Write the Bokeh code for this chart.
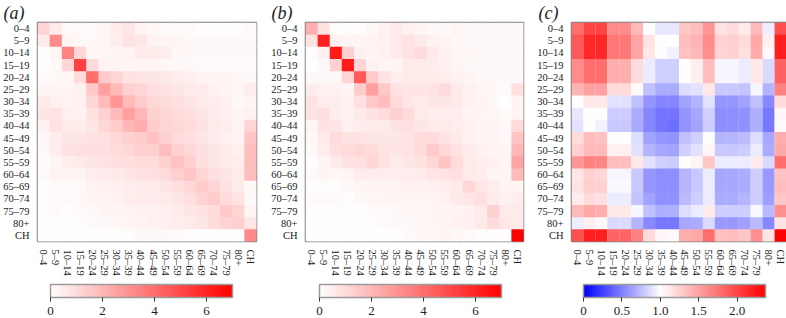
import math
from bokeh.plotting import figure
from bokeh.models import (LinearColorMapper, ColorBar, FixedTicker, ColumnDataSource,
                          FactorRange)
from bokeh.layouts import row
from bokeh.embed import file_html
from bokeh.resources import INLINE

ages = ["0–4", "5–9", "10–14", "15–19", "20–24", "25–29", "30–34", "35–39", "40–44",
        "45–49", "50–54", "55–59", "60–64", "65–69", "70–74", "75–79", "80+", "CH"]

panel_labels = ["(a)", "(b)", "(c)"]

contacts_a = [
    [1.2, 0.55, 0.15, 0.15, 0.15, 0.25, 0.55, 0.7, 0.35, 0.2, 0.15, 0.15, 0.15, 0.1, 0.1, 0.1, 0.1, 0.15],
    [0.55, 3.2, 0.3, 0.2, 0.2, 0.3, 0.5, 0.8, 0.7, 0.35, 0.3, 0.3, 0.2, 0.2, 0.2, 0.2, 0.2, 0.2],
    [0.1, 0.3, 3.4, 1.1, 0.25, 0.25, 0.3, 0.35, 0.55, 0.6, 0.5, 0.25, 0.2, 0.2, 0.2, 0.2, 0.2, 0.2],
    [0.05, 0.15, 1.1, 5.2, 1.0, 0.35, 0.3, 0.3, 0.35, 0.3, 0.25, 0.2, 0.2, 0.15, 0.15, 0.15, 0.15, 0.15],
    [0.15, 0.2, 0.25, 1.0, 4.0, 1.5, 1.2, 0.8, 0.7, 0.7, 0.65, 0.5, 0.45, 0.35, 0.3, 0.3, 0.2, 0.2],
    [0.3, 0.3, 0.3, 0.4, 1.5, 2.6, 1.9, 1.3, 1.1, 0.9, 0.8, 0.7, 0.6, 0.55, 0.4, 0.3, 0.25, 0.5],
    [0.6, 0.4, 0.35, 0.4, 1.1, 1.9, 2.9, 1.9, 1.4, 1.1, 0.95, 0.9, 0.75, 0.6, 0.5, 0.4, 0.2, 0.3],
    [0.7, 0.8, 0.45, 0.4, 0.8, 1.3, 1.9, 2.6, 2.0, 1.3, 1.1, 1.0, 0.9, 0.7, 0.55, 0.45, 0.3, 0.4],
    [0.4, 0.8, 0.6, 0.5, 0.7, 1.1, 1.4, 2.0, 2.2, 1.4, 1.2, 1.1, 1.0, 0.8, 0.6, 0.5, 0.35, 1.2],
    [0.2, 0.5, 0.7, 0.7, 0.8, 0.9, 1.1, 1.3, 1.4, 1.7, 1.3, 1.0, 0.9, 0.7, 0.55, 0.45, 0.35, 1.6],
    [0.2, 0.5, 0.8, 0.9, 0.9, 0.9, 1.0, 1.1, 1.3, 1.3, 1.8, 1.3, 1.1, 0.9, 0.7, 0.6, 0.45, 1.8],
    [0.15, 0.3, 0.5, 0.6, 0.7, 0.8, 0.9, 0.9, 1.0, 1.0, 1.3, 1.7, 1.3, 0.9, 0.7, 0.6, 0.5, 1.8],
    [0.15, 0.35, 0.3, 0.35, 0.5, 0.55, 0.6, 0.7, 0.8, 0.9, 1.0, 1.3, 1.6, 1.2, 0.9, 0.7, 0.6, 1.8],
    [0.1, 0.15, 0.15, 0.2, 0.35, 0.4, 0.45, 0.5, 0.55, 0.6, 0.7, 0.9, 1.1, 1.4, 1.2, 0.8, 0.6, 0.2],
    [0.1, 0.15, 0.15, 0.2, 0.3, 0.35, 0.4, 0.5, 0.6, 0.55, 0.6, 0.7, 0.9, 1.2, 1.4, 1.0, 0.8, 0.2],
    [0.1, 0.15, 0.1, 0.15, 0.2, 0.3, 0.3, 0.35, 0.4, 0.4, 0.45, 0.55, 0.7, 0.8, 1.0, 1.5, 1.2, 0.3],
    [0.1, 0.1, 0.1, 0.1, 0.15, 0.2, 0.25, 0.3, 0.35, 0.4, 0.45, 0.5, 0.6, 0.7, 1.0, 1.2, 1.3, 0.7],
    [0.05, 0.05, 0.05, 0.05, 0.05, 0.1, 0.1, 0.1, 0.2, 0.2, 0.2, 0.15, 0.1, 0.05, 0.1, 0.05, 0.05, 3.2],
]

contacts_b = [
    [2.2, 0.8, 0.1, 0.1, 0.1, 0.2, 0.4, 0.6, 0.4, 0.3, 0.2, 0.2, 0.3, 0.2, 0.2, 0.2, 0.2, 0.2],
    [0.8, 6.2, 0.4, 0.3, 0.3, 0.35, 0.4, 0.6, 0.8, 0.6, 0.4, 0.3, 0.2, 0.2, 0.2, 0.2, 0.2, 0.2],
    [0.1, 0.4, 6.3, 1.3, 0.4, 0.3, 0.4, 0.6, 0.8, 1.0, 0.6, 0.4, 0.3, 0.25, 0.2, 0.2, 0.2, 0.2],
    [0.05, 0.2, 1.3, 6.3, 1.2, 0.4, 0.3, 0.3, 0.6, 0.6, 0.5, 0.4, 0.3, 0.2, 0.2, 0.2, 0.2, 0.2],
    [0.2, 0.2, 0.2, 1.2, 4.5, 1.4, 0.8, 0.5, 0.6, 0.6, 0.6, 0.5, 0.4, 0.3, 0.2, 0.2, 0.2, 0.2],
    [0.5, 0.4, 0.4, 0.3, 1.4, 2.6, 1.5, 0.8, 0.7, 0.7, 0.8, 1.0, 0.6, 0.4, 0.3, 0.2, 0.15, 0.9],
    [0.8, 0.5, 0.5, 0.4, 0.9, 1.5, 1.8, 1.0, 0.7, 0.6, 0.7, 0.7, 0.6, 0.4, 0.35, 0.2, 0.0, 0.3],
    [0.8, 0.9, 0.5, 0.4, 0.6, 0.8, 1.0, 1.3, 1.0, 0.6, 0.5, 0.5, 0.5, 0.35, 0.3, 0.25, 0.15, 0.3],
    [0.3, 0.8, 0.7, 0.4, 0.5, 0.6, 0.6, 0.8, 0.9, 0.7, 0.6, 0.6, 0.5, 0.4, 0.3, 0.3, 0.2, 1.0],
    [0.2, 0.6, 1.0, 0.8, 0.8, 0.7, 0.7, 0.7, 0.8, 1.0, 1.0, 0.8, 0.6, 0.4, 0.35, 0.3, 0.2, 1.6],
    [0.2, 0.5, 0.9, 1.0, 1.1, 1.0, 0.8, 0.7, 0.8, 1.0, 1.5, 1.1, 0.8, 0.6, 0.4, 0.3, 0.3, 2.0],
    [0.1, 0.3, 0.6, 0.8, 0.9, 1.1, 0.8, 0.6, 0.7, 0.8, 1.1, 1.6, 1.0, 0.6, 0.5, 0.4, 0.3, 2.5],
    [0.2, 0.3, 0.2, 0.3, 0.5, 0.5, 0.5, 0.5, 0.5, 0.5, 0.7, 0.8, 0.9, 0.6, 0.5, 0.3, 0.3, 1.9],
    [0.1, 0.1, 0.1, 0.2, 0.3, 0.35, 0.3, 0.35, 0.4, 0.4, 0.4, 0.5, 0.6, 1.1, 0.7, 0.5, 0.3, 0.3],
    [0.15, 0.15, 0.15, 0.1, 0.2, 0.25, 0.3, 0.3, 0.3, 0.3, 0.3, 0.4, 0.6, 0.7, 0.9, 0.6, 0.4, 0.5],
    [0.1, 0.1, 0.1, 0.05, 0.1, 0.15, 0.15, 0.2, 0.25, 0.25, 0.3, 0.3, 0.35, 0.4, 0.6, 1.3, 0.6, 0.6],
    [0.1, 0.1, 0.05, 0.05, 0.1, 0.1, 0.15, 0.2, 0.2, 0.25, 0.3, 0.35, 0.4, 0.4, 0.6, 1.0, 0.7, 0.6],
    [0.05, 0.05, 0.05, 0.05, 0.05, 0.05, 0.05, 0.1, 0.15, 0.2, 0.25, 0.3, 0.2, 0.15, 0.1, 0.1, 0.05, 7.0],
]

ratio_c = [
    [1.78, 2.0, 2.0, 1.62, 1.62, 1.38, 1.0, 0.9, 0.9, 1.3, 1.35, 1.56, 1.16, 1.19, 1.1, 1.38, 0.94, 1.94],
    [1.9, 2.15, 2.15, 1.72, 1.72, 1.48, 1.16, 1.0, 1.0, 1.35, 1.4, 1.62, 1.24, 1.27, 1.19, 1.46, 1.08, 2.2],
    [1.9, 2.15, 2.15, 1.72, 1.72, 1.48, 1.12, 1.0, 0.95, 1.33, 1.38, 1.6, 1.22, 1.25, 1.17, 1.44, 1.03, 2.2],
    [1.62, 1.78, 1.78, 1.43, 1.43, 1.2, 0.92, 0.82, 0.82, 1.0, 1.08, 1.35, 0.96, 0.96, 0.92, 1.12, 0.85, 1.83],
    [1.62, 1.78, 1.78, 1.43, 1.43, 1.2, 0.92, 0.82, 0.82, 1.0, 1.08, 1.35, 0.96, 0.96, 0.92, 1.12, 0.85, 1.83],
    [1.4, 1.5, 1.5, 1.2, 1.2, 1.02, 0.75, 0.67, 0.67, 0.86, 0.88, 1.12, 0.78, 0.78, 0.76, 0.96, 0.7, 1.67],
    [1.0, 1.12, 1.12, 0.88, 0.88, 0.75, 0.59, 0.52, 0.52, 0.63, 0.7, 0.88, 0.59, 0.59, 0.63, 0.75, 0.53, 1.2],
    [0.9, 1.0, 1.0, 0.8, 0.8, 0.67, 0.52, 0.45, 0.45, 0.59, 0.65, 0.82, 0.55, 0.55, 0.57, 0.69, 0.47, 1.04],
    [0.88, 1.0, 0.95, 0.78, 0.78, 0.66, 0.52, 0.45, 0.43, 0.58, 0.64, 0.8, 0.55, 0.55, 0.56, 0.68, 0.46, 1.02],
    [1.2, 1.35, 1.33, 1.0, 1.0, 0.86, 0.63, 0.59, 0.58, 0.75, 0.82, 1.0, 0.7, 0.7, 0.73, 0.86, 0.65, 1.43],
    [1.24, 1.38, 1.38, 1.08, 1.08, 0.88, 0.7, 0.65, 0.64, 0.82, 0.88, 1.05, 0.78, 0.78, 0.8, 0.92, 0.67, 1.46],
    [1.56, 1.67, 1.65, 1.35, 1.35, 1.12, 0.88, 0.82, 0.8, 1.0, 1.05, 1.3, 0.92, 0.92, 0.92, 1.1, 0.85, 1.78],
    [1.14, 1.24, 1.22, 0.96, 0.96, 0.78, 0.59, 0.55, 0.55, 0.7, 0.78, 0.92, 0.65, 0.65, 0.67, 0.8, 0.6, 1.33],
    [1.16, 1.27, 1.25, 0.97, 0.97, 0.78, 0.59, 0.55, 0.55, 0.7, 0.78, 0.92, 0.65, 0.65, 0.67, 0.8, 0.6, 1.35],
    [1.1, 1.19, 1.17, 0.92, 0.92, 0.76, 0.63, 0.57, 0.56, 0.73, 0.8, 0.92, 0.67, 0.67, 0.7, 0.8, 0.62, 1.3],
    [1.38, 1.46, 1.44, 1.12, 1.12, 0.96, 0.75, 0.69, 0.68, 0.86, 0.92, 1.1, 0.8, 0.8, 0.8, 0.97, 0.72, 1.6],
    [0.94, 1.08, 1.03, 0.85, 0.85, 0.7, 0.53, 0.47, 0.46, 0.65, 0.67, 0.85, 0.6, 0.6, 0.62, 0.72, 0.52, 1.15],
    [1.94, 2.2, 2.2, 1.83, 1.83, 1.67, 1.2, 1.04, 1.02, 1.43, 1.46, 1.78, 1.33, 1.35, 1.3, 1.6, 1.15, 2.37],
]

contact_ticks = [0, 2, 4, 6]
ratio_ticks = [0, 0.5, 1.0, 1.5, 2.0]
ratio_tick_labels = ["0", "0.5", "1.0", "1.5", "2.0"]

SERIF = "Liberation Serif"


def hexc(r, g, b):
    return "#%02x%02x%02x" % (int(round(r)), int(round(g)), int(round(b)))


# white -> red palette
reds = [hexc(255, 255 * (1 - k / 255), 255 * (1 - k / 255)) for k in range(256)]
red_mapper_a = LinearColorMapper(palette=reds, low=0, high=7)
red_mapper_b = LinearColorMapper(palette=reds, low=0, high=7)

# blue -> white (at 1.0) -> red palette, 0 .. 2.37
div = []
n = 237
for k in range(n):
    v = (k + 0.5) / 100.0
    if v < 1.0:
        div.append(hexc(255 * v, 255 * v, 255))
    else:
        t = (v - 1.0) / 1.37
        div.append(hexc(255, 255 * (1 - t), 255 * (1 - t)))
div_mapper = LinearColorMapper(palette=div, low=0, high=2.37)


def panel(mat, mapper, label, fw, left, right, ticks, overrides, cb_x):
    xs, ys, vs = [], [], []
    for i, r in enumerate(ages):
        for j, c in enumerate(ages):
            xs.append(c)
            ys.append(r)
            vs.append(mat[i][j])
    src = ColumnDataSource(dict(x=xs, y=ys, v=vs))
    p = figure(x_range=FactorRange(*ages), y_range=FactorRange(*reversed(ages)),
               frame_width=fw, frame_height=219,
               min_border_left=left, min_border_right=right, min_border_top=0,
               min_border_bottom=0,
               toolbar_location=None, tools="", output_backend="svg")
    p.rect(x="x", y="y", width=1, height=1, source=src,
           fill_color={"field": "v", "transform": mapper}, line_color=None, dilate=True)
    p.title.text = label
    p.title.text_font = SERIF
    p.title.text_font_style = "italic"
    p.title.text_font_size = "18px"
    p.title.text_color = "#222222"
    p.title.align = "left"
    p.title.offset = -left + 1
    p.title.standoff = 0
    p.grid.grid_line_color = None
    p.axis.axis_line_color = None
    p.axis.major_tick_line_color = None
    p.axis.minor_tick_line_color = None
    p.axis.major_label_text_font = SERIF
    p.axis.major_label_text_font_size = "10.5px"
    p.axis.major_label_text_color = "#222222"
    p.axis.major_label_standoff = 2
    p.xaxis.major_label_orientation = -math.pi / 2
    p.outline_line_color = "#808080"
    p.outline_line_width = 1.5
    p.background_fill_color = "white"
    p.border_fill_color = "white"

    cb = ColorBar(color_mapper=mapper, orientation="horizontal", width=182, height=13,
                  location=(cb_x, 0), ticker=FixedTicker(ticks=ticks),
                  major_label_overrides=overrides,
                  major_label_text_font=SERIF, major_label_text_font_size="13px",
                  major_label_text_color="#222222",
                  major_tick_out=4, major_tick_in=0, major_tick_line_color="#333333",
                  minor_tick_line_color=None,
                  bar_line_color="#9a9a9a", bar_line_width=1.5,
                  padding=6, margin=8, label_standoff=5,
                  background_fill_alpha=0, border_line_color=None)
    p.add_layout(cb, "below")
    return p


pa = panel(contacts_a, red_mapper_a, panel_labels[0], 219, 35, 12, contact_ticks, {}, 7)
pb = panel(contacts_b, red_mapper_b, panel_labels[1], 218, 35, 11, contact_ticks, {}, 8)
pc = panel(ratio_c, div_mapper, panel_labels[2], 215, 34, 7, ratio_ticks,
           {t: s for t, s in zip(ratio_ticks, ratio_tick_labels)}, 6)

layout = row(pa, pb, pc, spacing=0)
open("out.html", "w").write(file_html(layout, INLINE))
